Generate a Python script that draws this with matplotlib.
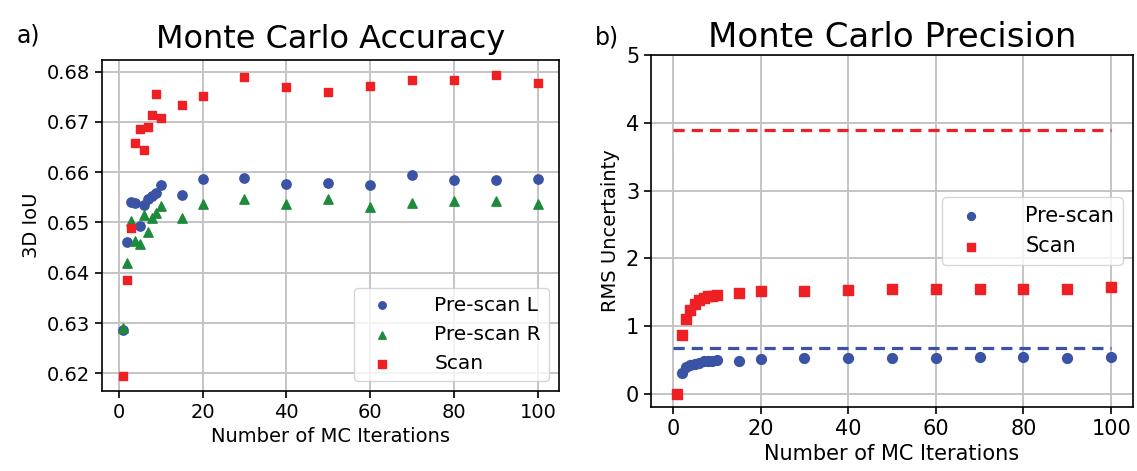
import matplotlib
matplotlib.use("Agg")
import matplotlib.pyplot as plt

# Monte Carlo iteration counts used for every run
iters = [1, 2, 3, 4, 5, 6, 7, 8, 9, 10, 15, 20, 30, 40, 50, 60, 70, 80, 90, 100]

# 3D IoU vs iterations
iou_prescan_l = [0.6286, 0.6462, 0.6541, 0.6538, 0.6493, 0.6535, 0.6546, 0.6553, 0.6558, 0.6575,
                 0.6555, 0.6586, 0.6588, 0.6577, 0.6579, 0.6574, 0.6594, 0.6584, 0.6584, 0.6586]
iou_prescan_r = [0.6290, 0.6419, 0.6503, 0.6464, 0.6457, 0.6514, 0.6481, 0.6509, 0.6519, 0.6532,
                 0.6508, 0.6537, 0.6546, 0.6536, 0.6546, 0.6530, 0.6539, 0.6543, 0.6542, 0.6536]
iou_scan = [0.6195, 0.6386, 0.6490, 0.6658, 0.6685, 0.6645, 0.6689, 0.6714, 0.6756, 0.6708,
            0.6734, 0.6751, 0.6789, 0.6770, 0.6759, 0.6772, 0.6784, 0.6784, 0.6793, 0.6778]

# RMS uncertainty vs iterations
rms_prescan = [0.0, 0.31, 0.39, 0.42, 0.44, 0.46, 0.48, 0.49, 0.49, 0.50,
               0.49, 0.52, 0.53, 0.53, 0.53, 0.53, 0.54, 0.54, 0.53, 0.54]
rms_scan = [0.0, 0.87, 1.11, 1.24, 1.32, 1.38, 1.41, 1.44, 1.45, 1.46,
            1.49, 1.51, 1.52, 1.53, 1.54, 1.54, 1.55, 1.55, 1.55, 1.57]

# reference levels (dashed)
ref_prescan = 0.68
ref_scan = 3.90

BLUE = "#3a53a4"
GREEN = "#1e8a3c"
RED = "#ee2024"
GRID = "#c4c4c4"

fig = plt.figure(figsize=(11.37, 4.71), dpi=100)
W, H = 1137, 471


def px_axes(left, top, right, bottom):
    return fig.add_axes([left / W, 1 - bottom / H, (right - left) / W, (bottom - top) / H])


def style(ax, fs):
    ax.grid(True, color=GRID, linewidth=1.4)
    ax.set_axisbelow(True)
    ax.tick_params(labelsize=fs, length=5, width=1.2)
    for sp in ax.spines.values():
        sp.set_linewidth(1.2)


# a) accuracy
ax1 = px_axes(102, 60, 559, 391)
ax1.scatter(iters, iou_prescan_l, s=45, marker="o", color=BLUE, label="Pre-scan L", zorder=3)
ax1.scatter(iters, iou_prescan_r, s=45, marker="^", color=GREEN, label="Pre-scan R", zorder=3)
ax1.scatter(iters, iou_scan, s=40, marker="s", color=RED, label="Scan", zorder=3)
ax1.set_xticks([0, 20, 40, 60, 80, 100])
ax1.set_yticks([0.62, 0.63, 0.64, 0.65, 0.66, 0.67, 0.68])
style(ax1, 14)
ax1.set_xlabel("Number of MC Iterations", fontsize=14)
ax1.set_ylabel("3D IoU", fontsize=14)
ax1.set_title("Monte Carlo Accuracy", fontsize=23, pad=9)
ax1.legend(loc="lower right", fontsize=14.5, handletextpad=1.6, borderpad=0.4, markerscale=0.8)
fig.text(28 / W, 1 - 36 / H, "a)", fontsize=17, ha="center", va="center")

# b) precision
ax2 = px_axes(651, 55, 1133, 407)
ax2.hlines(ref_scan, 0, 100, colors=RED, linestyles=(0, (3.5, 2.2)), linewidth=2.3)
ax2.hlines(ref_prescan, 0, 100, colors=BLUE, linestyles=(0, (3.5, 2.2)), linewidth=2.3)
ax2.scatter(iters, rms_prescan, s=50, marker="o", color=BLUE, label="Pre-scan", zorder=3)
ax2.scatter(iters, rms_scan, s=45, marker="s", color=RED, label="Scan", zorder=3)
ax2.set_ylim(top=5)
ax2.set_xticks([0, 20, 40, 60, 80, 100])
ax2.set_yticks([0, 1, 2, 3, 4, 5])
style(ax2, 15)
ax2.set_xlabel("Number of MC Iterations", fontsize=15)
ax2.set_ylabel("RMS Uncertainty", fontsize=14)
ax2.set_title("Monte Carlo Precision", fontsize=24.5, pad=6)
ax2.legend(loc="center right", fontsize=15, handletextpad=1.6, borderpad=0.4, markerscale=0.8)
fig.text(607 / W, 1 - 37 / H, "b)", fontsize=17, ha="center", va="center")

fig.savefig("out.png", dpi=100)
